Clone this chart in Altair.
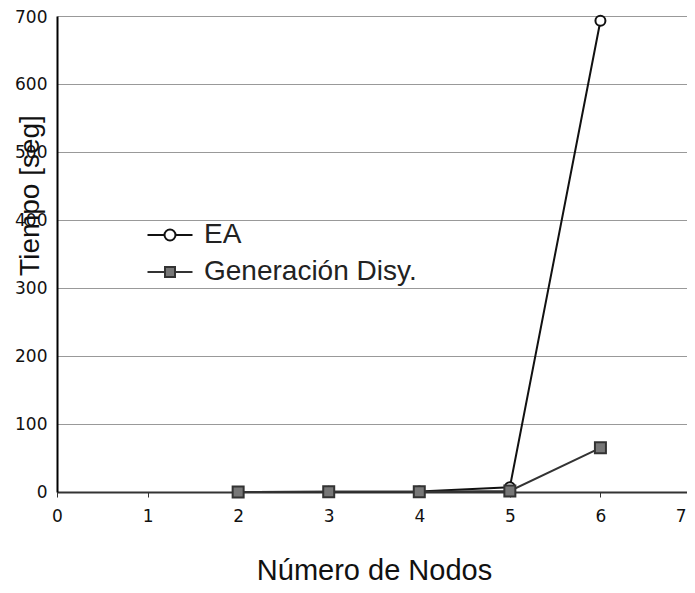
import altair as alt
import pandas as pd

# ---- data ----
nodos = [2, 3, 4, 5, 6]
ea = [0.1, 0.3, 0.8, 7, 693]
gen = [0.1, 0.2, 0.5, 1.5, 65]
series = ["EA", "Generación Disy."]
x_ticks = [0, 1, 2, 3, 4, 5, 6, 7]
y_ticks = [0, 100, 200, 300, 400, 500, 600, 700]

df_ea = pd.DataFrame({"Nodos": nodos, "Tiempo": ea, "Serie": series[0]})
df_gen = pd.DataFrame({"Nodos": nodos, "Tiempo": gen, "Serie": series[1]})
df_all = pd.concat([df_ea, df_gen], ignore_index=True)

TFONT = "Liberation Sans"
NFONT = "DejaVu Sans"

x = alt.X(
    "Nodos:Q",
    scale=alt.Scale(domain=[0, 7], nice=False, zero=False),
    axis=alt.Axis(
        values=x_ticks, title="Número de Nodos", grid=False,
        domainColor="#333333", domainWidth=2,
        ticks=True, tickColor="#333333", tickSize=5, tickWidth=1,
        labelFont=NFONT, labelFontSize=17, labelColor="#111111", labelPadding=11,
        labelFlush=False,
        labelAlign={"condition": {"test": "datum.value == 7", "value": "right"}, "value": "center"},
        labelOffset={"condition": {"test": "datum.value == 7", "value": -5}, "value": 0},
        titleFont=TFONT, titleFontSize=29, titleFontWeight="normal", titleColor="#111111",
        titleY=87, titleBaseline="alphabetic",
    ),
)
y = alt.Y(
    "Tiempo:Q",
    scale=alt.Scale(domain=[0, 700], nice=False),
    axis=alt.Axis(
        values=y_ticks, title="Tiempo [seg]", grid=True, gridColor="#999999", gridWidth=1,
        domainColor="#000000", domainWidth=2, ticks=False,
        labelFont=NFONT, labelFontSize=17, labelColor="#111111", labelPadding=10,
        labelFlush=False,
        labelOffset={"condition": {"test": "datum.value == 700", "value": 1}, "value": 0},
        titleFont=TFONT, titleFontSize=28, titleFontWeight="normal", titleColor="#111111",
        titleAngle=270, titleX=-27, titleY=179, titleAlign="center", titleBaseline="middle",
    ),
)

line_ea = alt.Chart(df_ea).mark_line(color="#111111", strokeWidth=2).encode(x=x, y=y)
pts_ea = alt.Chart(df_ea).mark_point(
    shape="circle", filled=True, fill="white", stroke="#111111", strokeWidth=2, size=100, opacity=1
).encode(x=x, y=y)
line_gen = alt.Chart(df_gen).mark_line(color="#333333", strokeWidth=2).encode(x=x, y=y)
pts_gen = alt.Chart(df_gen).mark_point(
    shape="square", filled=True, fill="#777777", stroke="#333333", strokeWidth=2, size=121, opacity=1
).encode(x=x, y=y)

# legend symbols: a line through the marker
circ_path = "M-2.25,0H-0.55M0.55,0H2.25M0.55,0A0.55,0.55,0,1,1,-0.55,0A0.55,0.55,0,1,1,0.55,0Z"
sq_path = "M-2.25,0H-0.5M0.5,0H2.25M-0.5,-0.5H0.5V0.5H-0.5Z"

legend = alt.Legend(
    title=None, orient="none", legendX=99, legendY=205, padding=0, offset=0,
    labelFont=TFONT, labelFontSize=28, labelColor="#222222", labelOffset=20, labelLimit=0,
    rowPadding=9, symbolSize=400, symbolStrokeWidth=2, symbolOpacity=1,
)
leg = alt.Chart(df_all).mark_point(filled=True, size=400, opacity=0).encode(
    x=x, y=y,
    shape=alt.Shape("Serie:N", scale=alt.Scale(domain=series, range=[circ_path, sq_path]), legend=legend),
    fill=alt.Fill("Serie:N", scale=alt.Scale(domain=series, range=["#ffffff", "#777777"]), legend=legend),
    stroke=alt.Stroke("Serie:N", scale=alt.Scale(domain=series, range=["#111111", "#333333"]), legend=legend),
)

chart = alt.layer(line_ea, pts_ea, line_gen, pts_gen, leg).properties(
    width=634, height=476,
    autosize=alt.AutoSizeParams(type="none"),
    padding={"left": 49, "top": 8, "right": -4, "bottom": 93},
).configure_view(stroke=None)

chart.save("out.html", embed_options={"renderer": "svg", "actions": False})
